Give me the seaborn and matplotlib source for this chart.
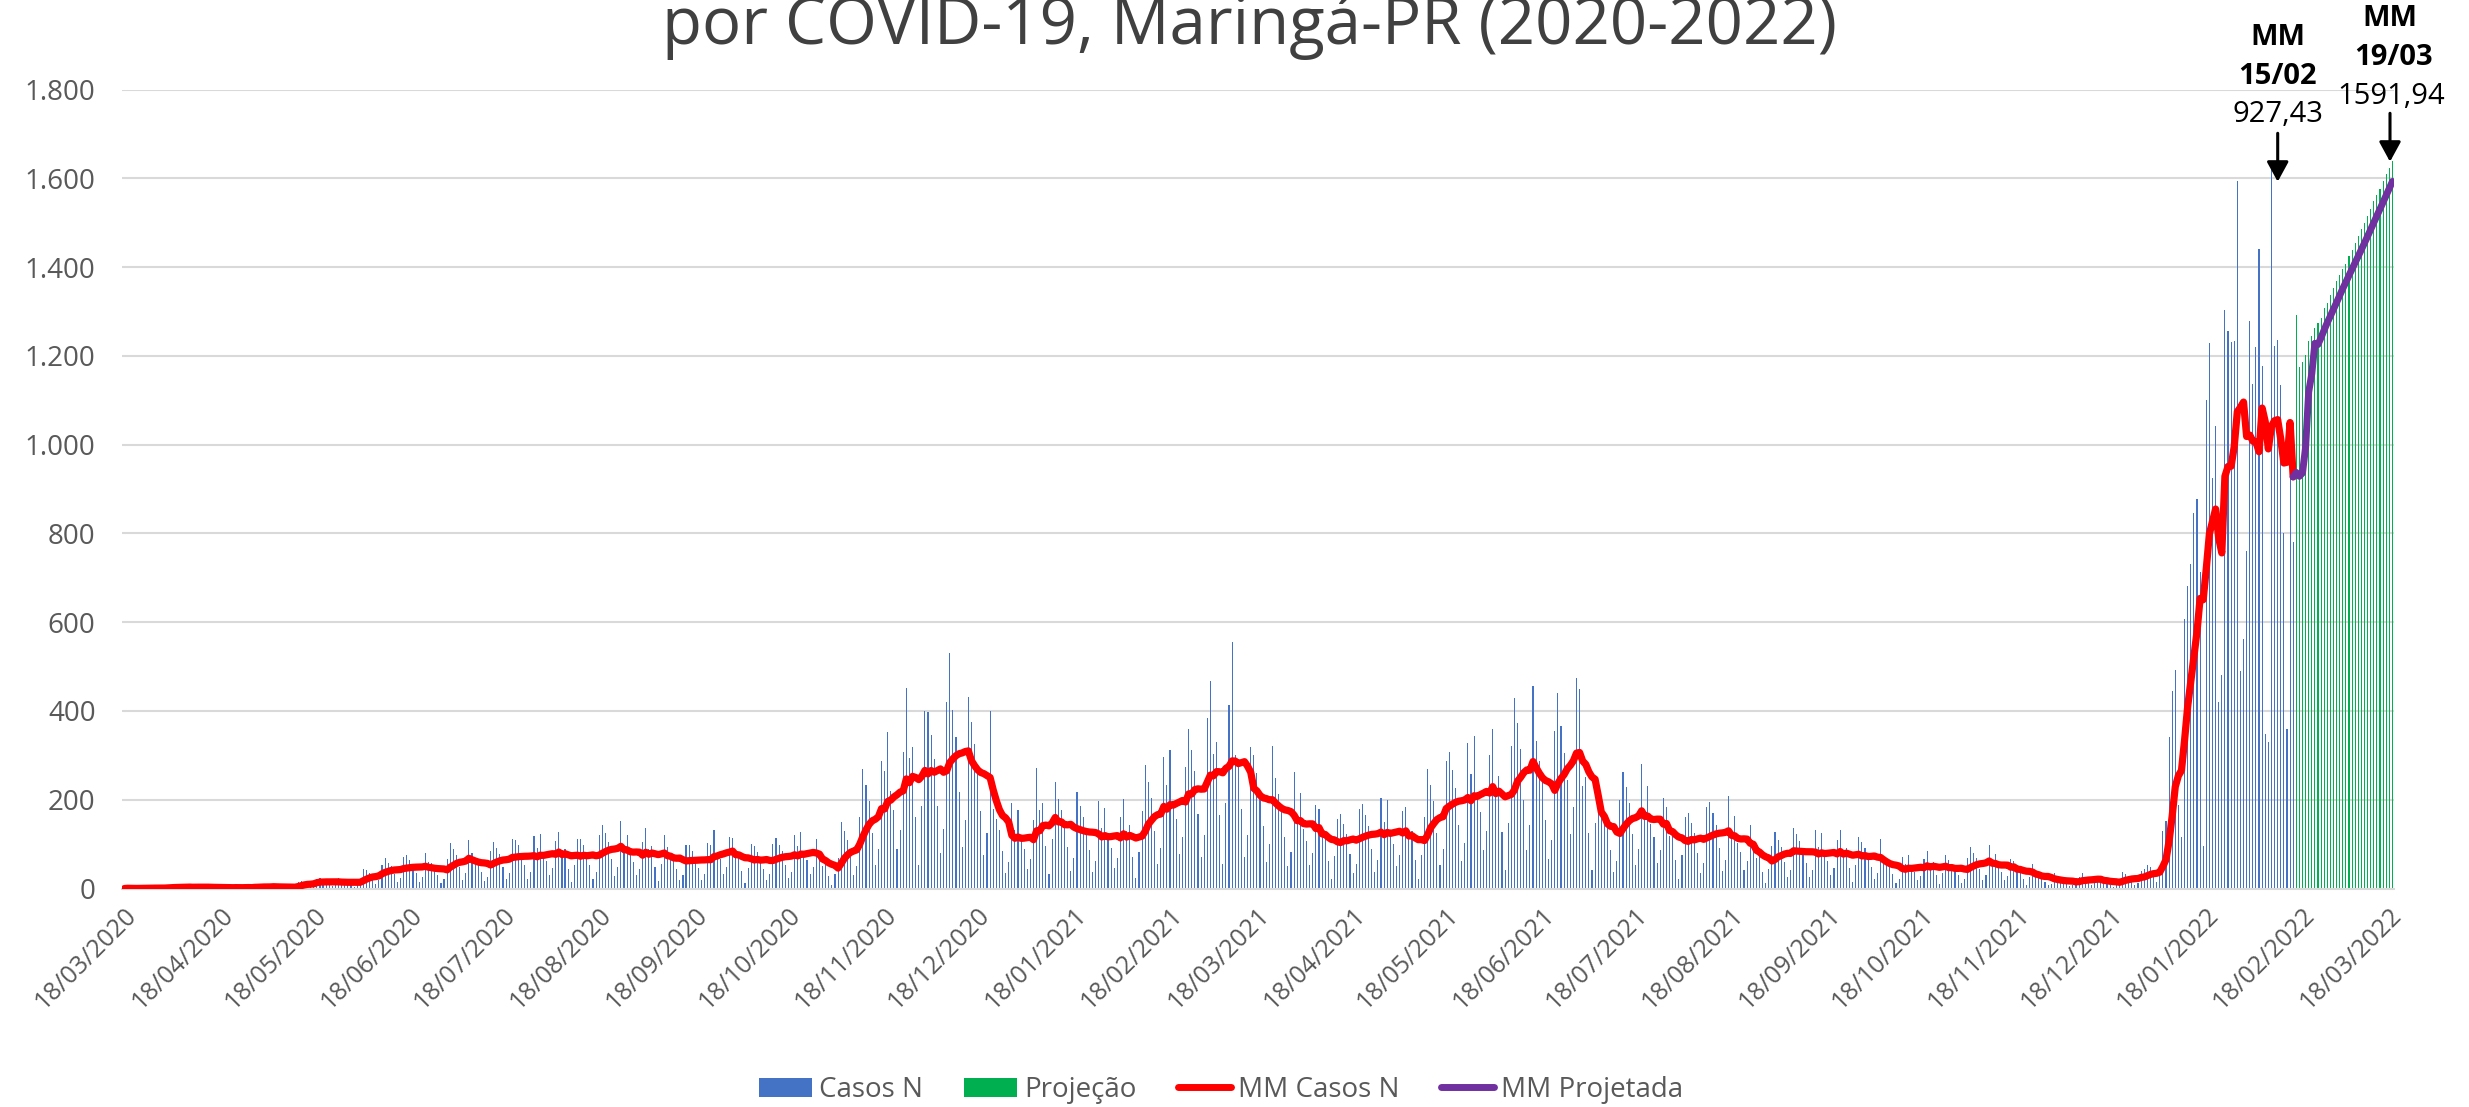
import numpy as np
import pandas as pd
import matplotlib
matplotlib.use("Agg")
import matplotlib.pyplot as plt
import seaborn as sns
from matplotlib.patches import Patch
from matplotlib.lines import Line2D

# ---------------- data ----------------
start_date = "2020-03-18"

# Casos N: daily confirmed cases, 18/03/2020 .. 15/02/2022 (one row per week, Wed..Tue)
casos_n = [
    0, 1, 0, 0, 0, 1, 1,
    1, 2, 1, 0, 0, 1, 2,
    4, 5, 3, 2, 1, 2, 4,
    5, 3, 4, 2, 1, 2, 4,
    3, 2, 3, 1, 0, 1, 4,
    2, 3, 2, 1, 1, 2, 3,
    6, 5, 4, 3, 1, 3, 6,
    4, 4, 3, 2, 1, 2, 5,
    14, 18, 15, 10, 4, 8, 22,
    24, 20, 16, 10, 5, 7, 23,
    20, 18, 15, 10, 4, 9, 22,
    45, 42, 36, 24, 10, 20, 54,
    68, 58, 50, 32, 14, 23, 70,
    75, 65, 55, 35, 15, 25, 80,
    60, 58, 46, 30, 12, 22, 66,
    102, 88, 75, 48, 20, 34, 109,
    80, 69, 58, 37, 16, 27, 84,
    105, 91, 77, 49, 21, 35, 112,
    110, 98, 80, 52, 22, 38, 118,
    92, 123, 77, 62, 31, 46, 108,
    128, 83, 90, 45, 15, 52, 112,
    112, 98, 82, 52, 22, 38, 121,
    142, 124, 104, 66, 28, 48, 153,
    90, 120, 75, 60, 30, 45, 105,
    136, 88, 96, 48, 16, 56, 120,
    93, 81, 68, 43, 19, 31, 99,
    98, 84, 72, 46, 20, 32, 103,
    98, 131, 82, 66, 33, 49, 115,
    114, 74, 80, 40, 13, 47, 101,
    95, 82, 69, 44, 19, 32, 100,
    114, 99, 84, 53, 23, 38, 121,
    96, 128, 80, 64, 32, 48, 112,
    78, 51, 55, 28, 9, 32, 69,
    150, 130, 110, 70, 30, 50, 160,
    270, 234, 198, 126, 54, 90, 288,
    264, 352, 220, 176, 88, 132, 308,
    452, 293, 319, 160, 53, 186, 399,
    398, 345, 292, 186, 80, 133, 421,
    530, 403, 341, 217, 93, 155, 431,
    375, 325, 275, 175, 75, 125, 400,
    180, 156, 132, 84, 36, 60, 192,
    132, 176, 110, 88, 44, 66, 154,
    272, 176, 192, 96, 32, 112, 240,
    202, 176, 148, 94, 40, 68, 217,
    185, 160, 135, 86, 37, 62, 196,
    137, 182, 114, 91, 46, 68, 160,
    201, 130, 142, 71, 24, 83, 175,
    278, 240, 204, 130, 55, 92, 296,
    234, 312, 195, 156, 78, 117, 273,
    360, 312, 264, 168, 72, 120, 384,
    468, 302, 330, 165, 55, 192, 413,
    555, 300, 290, 180, 70, 120, 319,
    300, 260, 220, 140, 60, 100, 320,
    248, 214, 182, 116, 50, 82, 263,
    162, 216, 135, 108, 54, 81, 189,
    178, 116, 126, 63, 21, 74, 157,
    168, 146, 123, 78, 34, 56, 179,
    190, 165, 140, 89, 38, 64, 203,
    150, 200, 125, 100, 50, 75, 175,
    184, 119, 130, 65, 22, 76, 160,
    270, 234, 198, 126, 54, 90, 288,
    308, 266, 226, 144, 62, 102, 327,
    258, 344, 215, 172, 86, 129, 301,
    360, 233, 254, 127, 42, 148, 320,
    429, 372, 315, 200, 86, 143, 457,
    332, 287, 243, 155, 66, 110, 354,
    440, 366, 305, 244, 122, 183, 475,
    450, 231, 252, 126, 42, 147, 222,
    186, 161, 136, 87, 37, 62, 199,
    262, 228, 192, 122, 52, 88, 281,
    174, 232, 145, 116, 58, 87, 203,
    184, 119, 130, 65, 22, 76, 160,
    171, 148, 125, 80, 34, 57, 183,
    195, 169, 143, 91, 39, 65, 208,
    122, 163, 102, 82, 41, 61, 143,
    105, 68, 74, 37, 12, 43, 95,
    128, 110, 94, 60, 25, 42, 136,
    123, 107, 90, 57, 25, 41, 131,
    94, 125, 78, 62, 31, 47, 109,
    131, 85, 92, 46, 15, 54, 116,
    105, 91, 77, 49, 21, 35, 112,
    68, 58, 50, 32, 13, 22, 72,
    56, 75, 47, 38, 19, 28, 66,
    85, 55, 60, 30, 10, 35, 75,
    64, 56, 47, 30, 13, 22, 69,
    93, 81, 68, 43, 19, 31, 99,
    58, 77, 48, 38, 19, 29, 67,
    63, 41, 44, 22, 7, 26, 56,
    33, 29, 24, 15, 7, 11, 35,
    22, 20, 16, 10, 5, 8, 24,
    25, 34, 21, 17, 8, 13, 29,
    24, 15, 17, 8, 3, 10, 21,
    38, 32, 28, 18, 8, 12, 39,
    45, 52, 48, 30, 14, 30, 129,
    151, 342, 445, 493, 187, 115, 608,
    681, 731, 847, 878, 714, 95, 1101,
    1228, 925, 1043, 420, 480, 1303, 1256,
    1232, 1234, 1593, 490, 563, 760, 1279,
    1136, 1219, 1441, 1178, 348, 331, 1637,
    1223, 1236, 1135, 800, 359, 958, 780,
]

# Projeção: projected daily cases, 16/02/2022 .. 19/03/2022
projecao = [1293, 1175, 1187, 1203, 1234, 1244, 1262, 1273, 1286, 1307,
            1318, 1338, 1352, 1368, 1383, 1396, 1408, 1424, 1439, 1455,
            1469, 1486, 1500, 1514, 1531, 1548, 1562, 1576, 1593, 1610,
            1623, 1638]

tick_labels = ["18/03/2020", "18/04/2020", "18/05/2020", "18/06/2020",
               "18/07/2020", "18/08/2020", "18/09/2020", "18/10/2020",
               "18/11/2020", "18/12/2020", "18/01/2021", "18/02/2021",
               "18/03/2021", "18/04/2021", "18/05/2021", "18/06/2021",
               "18/07/2021", "18/08/2021", "18/09/2021", "18/10/2021",
               "18/11/2021", "18/12/2021", "18/01/2022", "18/02/2022",
               "18/03/2022"]
ytick_values = [0, 200, 400, 600, 800, 1000, 1200, 1400, 1600, 1800]
ytick_labels = ["0", "200", "400", "600", "800", "1.000", "1.200",
                "1.400", "1.600", "1.800"]

title_text = "por COVID-19, Maringá-PR (2020-2022)"
series_names = ["Casos N", "Projeção", "MM Casos N", "MM Projetada"]

# ---------------- derived ----------------
n_obs = len(casos_n)
day_obs = np.arange(n_obs)
day_proj = np.arange(n_obs, n_obs + len(projecao))
mm_casos = pd.Series(casos_n, dtype=float).rolling(7, min_periods=1).mean().values
combined = pd.Series(casos_n + projecao, dtype=float).rolling(7, min_periods=1).mean().values
day_mm_proj = np.arange(n_obs - 1, n_obs + len(projecao))
mm_proj = combined[n_obs - 1:]

t0 = pd.Timestamp(start_date)
tick_pos = [(pd.to_datetime(s, format="%d/%m/%Y") - t0).days for s in tick_labels]

# ---------------- style ----------------
sns.set_style("white")
plt.rcParams["font.family"] = ["Open Sans", "DejaVu Sans"]

BLUE = "#4472C4"
GREEN = "#00B050"
RED = "#FF0000"
PURPLE = "#7030A0"
GRID = "#D9D9D9"
TXT = "#595959"

W, H = 2469, 1107
fig = plt.figure(figsize=(W / 100, H / 100), dpi=100)
ax_l, ax_r, ax_t, ax_b = 122, 2394, 89.5, 888.5
ax = fig.add_axes([ax_l / W, 1 - ax_b / H, (ax_r - ax_l) / W, (ax_b - ax_t) / H])

df_obs = pd.DataFrame({"dia": day_obs, "casos": casos_n})
df_proj = pd.DataFrame({"dia": day_proj, "casos": projecao})

sns.barplot(data=df_obs, x="dia", y="casos", native_scale=True, width=0.36,
            color=BLUE, saturation=1, errorbar=None, linewidth=0,
            edgecolor="none", ax=ax, zorder=2)
sns.barplot(data=df_proj, x="dia", y="casos", native_scale=True, width=0.36,
            color=GREEN, saturation=1, errorbar=None, linewidth=0,
            edgecolor="none", ax=ax, zorder=2)

sns.lineplot(x=day_obs, y=mm_casos, color=RED, linewidth=5.2, ax=ax,
             errorbar=None, zorder=4, solid_capstyle="round",
             solid_joinstyle="round")
sns.lineplot(x=day_mm_proj, y=mm_proj, color=PURPLE, linewidth=5.0, ax=ax,
             errorbar=None, zorder=5, solid_capstyle="round",
             solid_joinstyle="round")

ax.set_xlim(-0.8, 731.5)
ax.set_ylim(0, 1800)
ax.set_xlabel("")
ax.set_ylabel("")

ax.set_yticks(ytick_values)
ax.set_yticklabels(ytick_labels, fontsize=20, color=TXT)
ax.set_xticks(tick_pos)
ax.set_xticklabels(tick_labels, fontsize=18, color=TXT, rotation=45,
                   ha="right", va="top", rotation_mode="anchor")
ax.tick_params(axis="y", length=0, pad=19)
ax.tick_params(axis="x", length=0, pad=10)

ax.set_axisbelow(True)
ax.yaxis.grid(True, color=GRID, linewidth=1.5)
ax.xaxis.grid(False)
for s in ["top", "right", "left"]:
    ax.spines[s].set_visible(False)
ax.spines["bottom"].set_color(GRID)
ax.spines["bottom"].set_linewidth(1.5)

# ---------------- title (partially cut at top) ----------------
fig.text(1250 / W, 1 - 44 / H, title_text, ha="center", va="baseline",
         fontsize=47, color="#404040")

# ---------------- annotations ----------------
def px2data(xp, yp):
    xd = -0.8 + (xp - ax_l) * (731.5 + 0.8) / (ax_r - ax_l)
    yd = (ax_b - yp) * 1800 / (ax_b - ax_t)
    return xd, yd

arrow_kw = dict(arrowstyle="-|>,head_length=0.55,head_width=0.3", color="black",
                lw=2.2, shrinkA=0, shrinkB=0, mutation_scale=22)
for (xp, ytail, ytip) in [(2277.7, 133.3, 181.7), (2390.0, 113.3, 161.7)]:
    x_d, y_tail = px2data(xp, ytail)
    _, y_tip = px2data(xp, ytip)
    ax.annotate("", xy=(x_d, y_tip), xytext=(x_d, y_tail), xycoords="data",
                arrowprops=arrow_kw, annotation_clip=False)

ann = [
    (2277.7, 37.5, "MM", "bold"),
    (2277.7, 76.0, "15/02", "bold"),
    (2277.7, 114.0, "927,43", "normal"),
    (2390.0, 19.0, "MM", "bold"),
    (2394.0, 57.5, "19/03", "bold"),
    (2390.7, 96.0, "1591,94", "normal"),
]
for xp, yp, s, wgt in ann:
    fig.text(xp / W, 1 - yp / H, s, ha="center", va="center", fontsize=21,
             fontweight=wgt, color="black")

# ---------------- legend ----------------
handles = [
    Patch(facecolor=BLUE, edgecolor="none"),
    Patch(facecolor=GREEN, edgecolor="none"),
    Line2D([], [], color=RED, linewidth=5, solid_capstyle="round"),
    Line2D([], [], color=PURPLE, linewidth=5, solid_capstyle="round"),
]
fig.legend(handles, series_names, loc="center", bbox_to_anchor=(1221 / W, 1 - 1090 / H),
           ncol=4, frameon=False, fontsize=20, handlelength=1.9, handleheight=0.7,
           handletextpad=0.25, columnspacing=1.5, labelcolor=TXT)

fig.savefig("out.png", dpi=100)
